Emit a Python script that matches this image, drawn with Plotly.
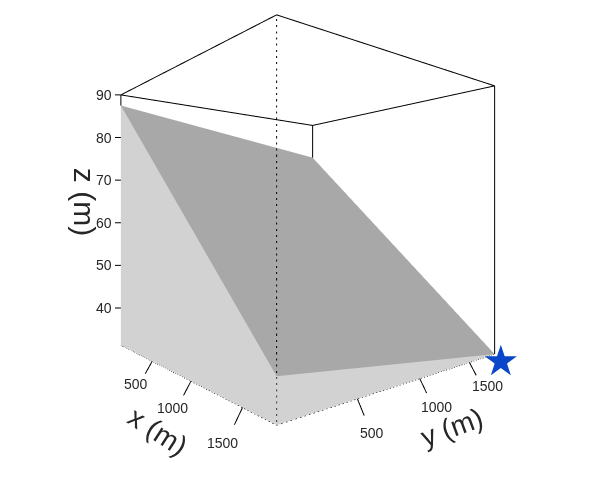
import plotly.graph_objects as go

# Values
x_ticks = [500, 1000, 1500]
y_ticks = [500, 1000, 1500]
z_ticks = [40, 50, 60, 70, 80, 90]
x_limits = [-20, 1760]
y_limits = [0, 1800]
z_limits = [31.3, 90]
# Plane height at the four corners of the box (xmin/ymin, xmax/ymin, xmax/ymax, xmin/ymax)
surface_z = [87.5, 38.3, 31.3, 80.0]
star_xyz = [1760, 1800, 31.3]

x0, x1 = x_limits
y0, y1 = y_limits
z0, z1 = z_limits
sx = [x0, x1, x1, x0]
sy = [y0, y0, y1, y1]

# Styles / layout
DARK = "#a8a8a8"
LIGHT = "#d2d2d2"
TEXT = "#262626"
FONT = "Liberation Sans"
PAD_XY = 100
PAD_Z = 5
LAT_X, LAT_Y, LAT_Z = 1.0639, 0.9742, 0.989  # physical proportions of the box
flat = dict(ambient=1, diffuse=0, specular=0, fresnel=0, roughness=1)

fig = go.Figure()

# Top plane of the data
fig.add_trace(go.Mesh3d(x=sx, y=sy, z=surface_z, i=[0, 0], j=[1, 2], k=[2, 3],
                        color=DARK, flatshading=True, lighting=flat, hoverinfo="skip"))
# Side walls under the plane
wall_x = [x0, x1, x1, x0, x1, x1, x1, x1]
wall_y = [y0, y0, y0, y0, y0, y1, y1, y0]
wall_z = [surface_z[0], surface_z[1], z0, z0, surface_z[1], surface_z[2], z0, z0]
fig.add_trace(go.Mesh3d(x=wall_x, y=wall_y, z=wall_z,
                        i=[0, 0, 4, 4], j=[1, 2, 5, 6], k=[2, 3, 6, 7],
                        color=LIGHT, flatshading=True, lighting=flat, hoverinfo="skip"))


def segs(pairs):
    xs, ys, zs = [], [], []
    for a, b in pairs:
        xs += [a[0], b[0], None]
        ys += [a[1], b[1], None]
        zs += [a[2], b[2], None]
    return xs, ys, zs


# Solid frame
solid = [
    ((x0, y0, z1), (x1, y0, z1)),
    ((x1, y0, z1), (x1, y1, z1)),
    ((x1, y1, z1), (x0, y1, z1)),
    ((x0, y1, z1), (x0, y0, z1)),
    ((x0, y0, z1), (x0, y0, surface_z[0])),
    ((x0, y1, z1), (x0, y1, surface_z[3])),
    ((x1, y1, z1), (x1, y1, surface_z[2])),
]
# Ticks
TICK_XY = 45
TICK_DZ = 2.3
for v in x_ticks:
    solid.append(((v, y0, z0), (v, y0 - TICK_XY, z0 - TICK_DZ)))
for v in y_ticks:
    solid.append(((x1, v, z0), (x1 + TICK_XY, v, z0 - TICK_DZ)))
for v in z_ticks:
    solid.append(((x0, y0, v), (x0 - 35, y0 - 43, v)))
xs, ys, zs = segs(solid)
fig.add_trace(go.Scatter3d(x=xs, y=ys, z=zs, mode="lines",
                           line=dict(color="black", width=2), hoverinfo="skip", showlegend=False))
# Dotted frame
dotted = [
    ((x0, y0, z0), (x1, y0, z0)),
    ((x1, y0, z0), (x1, y1, z0)),
    ((x1, y0, z0), (x1, y0, z1)),
]
xs, ys, zs = segs(dotted)
fig.add_trace(go.Scatter3d(x=xs, y=ys, z=zs, mode="lines",
                           line=dict(color="black", width=2, dash="dot"), hoverinfo="skip", showlegend=False))

# Text, anchored on the axes through the scene's scales
ann = []


def label(x, y, z, text, dx, dy, size=14, angle=0, color=TEXT, family=FONT):
    ann.append(dict(x=x, y=y, z=z, text=text, showarrow=False, xshift=dx, yshift=dy,
                    textangle=angle, xanchor="center", yanchor="middle",
                    font=dict(size=size, color=color, family=family)))


x_shift = [(-16, -23), (-18, -27), (-20, -35)]
y_shift = [(15, -34), (17, -28), (18, -24)]
for v, (dx, dy) in zip(x_ticks, x_shift):
    label(v, y0, z0, str(v), dx, dy)
for v, (dx, dy) in zip(y_ticks, y_shift):
    label(x1, v, z0, str(v), dx, dy)
for v in z_ticks:
    label(x0, y0, v, str(v), -17, 0)
label(1000, y0, z0, "x (m)", -33, -50, size=28, angle=33)
label(x1, 1000, z0, "y (m)", 32, -49, size=28, angle=-20)
label(x0, y0, 60, "z (m)", -37, 21, size=30, angle=90)
label(star_xyz[0], star_xyz[1], star_xyz[2], "★", 6, -6, size=42, color="#0a46c8", family="DejaVu Sans")

x_rng = [x0 - PAD_XY, x1 + PAD_XY]
y_rng = [y0 - PAD_XY, y1 + PAD_XY]
z_rng = [z0 - PAD_Z, z1 + PAD_Z]
aspect = dict(
    x=LAT_X * (x_rng[1] - x_rng[0]) / (x1 - x0),
    y=LAT_Y * (y_rng[1] - y_rng[0]) / (y1 - y0),
    z=LAT_Z * (z_rng[1] - z_rng[0]) / (z1 - z0),
)
hidden = dict(visible=False, showgrid=False, zeroline=False, showspikes=False)

W, H = 589, 482
fig.update_layout(
    width=W, height=H, margin=dict(l=0, r=0, t=0, b=0),
    paper_bgcolor="white", showlegend=False, font=dict(family=FONT),
    scene=dict(
        domain=dict(x=[107 / W, 557 / W], y=[(H - 424) / H, 1]),
        bgcolor="white",
        xaxis=dict(range=x_rng, **hidden),
        yaxis=dict(range=y_rng, **hidden),
        zaxis=dict(range=z_rng, **hidden),
        aspectmode="manual", aspectratio=aspect,
        camera=dict(eye=dict(x=1.5498, y=-1.2008, z=0.0),
                    center=dict(x=0.0992, y=0.1098, z=0.0),
                    up=dict(x=0, y=0, z=1),
                    projection=dict(type="perspective")),
        annotations=ann,
    ),
)
fig.write_html("out.html", config=dict(displayModeBar=False))
